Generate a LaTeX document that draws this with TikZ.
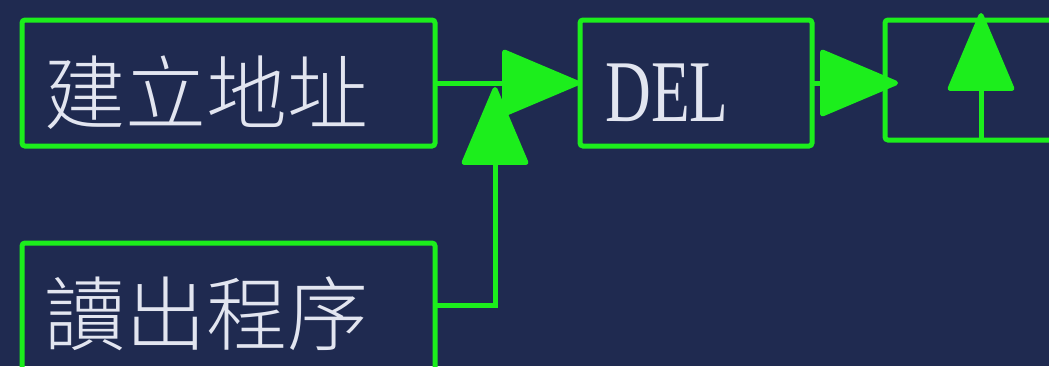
\documentclass[tikz,border=0pt]{standalone}
\usepackage{fontspec}
\setmainfont{Liberation Serif}
\newfontfamily\cjk{Noto Sans CJK TC}[UprightFont={* Light}]
\usepackage{tikz}
\usetikzlibrary{arrows.meta, positioning}
\definecolor{boardnavy}{RGB}{31, 42, 80}
\definecolor{wiregreen}{RGB}{28, 238, 28}
\definecolor{chalk}{RGB}{226, 229, 240}

\begin{document}
\begin{tikzpicture}[
    box/.style={rectangle, draw=wiregreen, line width=2.5pt, rounded corners=1.5pt, inner sep=0pt, outer sep=0pt},
    lbl/.style={text=chalk, inner sep=0pt, anchor=west},
    arrow/.style={-{Triangle[length=41pt, width=34pt, round]}, line width=2.5pt, wiregreen}
]
    % Board
    \useasboundingbox (0,0) rectangle (524.5pt,-183pt);
    \clip (0,0) rectangle (524.5pt,-183pt);
    \fill[boardnavy] (0,0) rectangle (524.5pt,-183pt);

    % Boxes
    \node[box, minimum width=206.5pt, minimum height=63pt, anchor=north west] (addr) at (11pt,-10pt) {};
    \node[box, minimum width=206.5pt, minimum height=100pt, below=48.5pt of addr] (read) {};
    \node[box, minimum width=116pt, minimum height=63pt, right=72.5pt of addr] (del) {};
    \node[box, minimum width=116pt, minimum height=60pt, right=36.5pt of del, yshift=1.5pt] (out) {};

    % Labels
    \node[lbl, font=\cjk\fontsize{40.5}{41}\selectfont] (addrtxt) at ([xshift=11pt, yshift=-5pt]addr.west) {建立地址};
    \node[lbl, font=\cjk\fontsize{40.5}{41}\selectfont] (readtxt) at ([xshift=11pt]read.north west |- 0,-157pt) {讀出程序};
    \node[lbl, font=\fontsize{44}{44}\selectfont] (deltxt) at ([xshift=12.5pt, yshift=-5pt]del.west) {\scalebox{0.72}[1]{DEL}};

    % Joins
    \coordinate (rdout) at (read.east |- 0,-152.5pt);
    \coordinate (merge) at (247.5pt,-43.5pt);
    \coordinate (outin) at ([xshift=6.5pt]out.west |- del.east);
    \coordinate (outbot) at ([xshift=48pt]out.south west);
    \coordinate (outtop) at ([xshift=48pt, yshift=3.5pt]out.north west);

    % Arrows
    \draw[arrow] (addr.east |- del.east) -- (del.west);
    \draw[arrow] (rdout) -| (merge);
    \draw[arrow] (del.east) -- (outin);
    \draw[arrow] (outbot) -- (outtop);
\end{tikzpicture}
\end{document}
